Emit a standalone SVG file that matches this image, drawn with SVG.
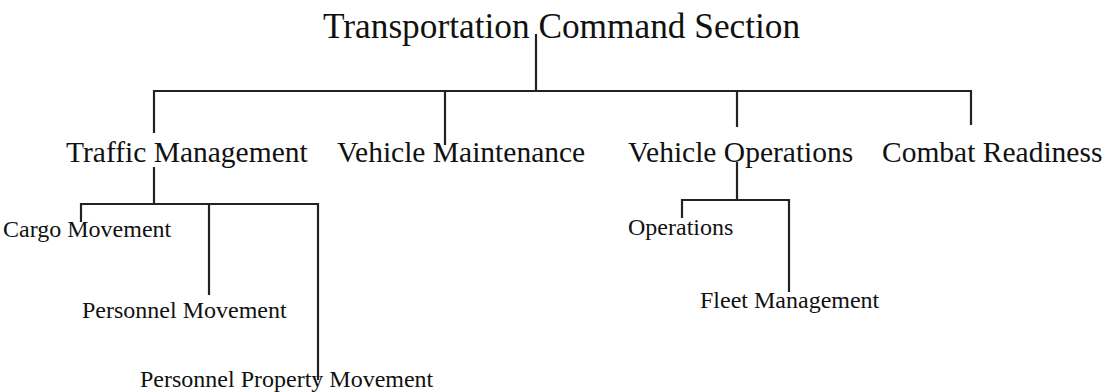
<svg xmlns="http://www.w3.org/2000/svg" width="1107" height="392" viewBox="0 0 1107 392">
<style>
text{font-family:"Liberation Serif","Times New Roman",serif;fill:#111}
.t0{font-size:35.3px}
.t1{font-size:29.5px}
.t2{font-size:24px}
.c line{stroke:#222;stroke-width:2.2;fill:none}
</style>
<rect width="1107" height="392" fill="#fff"/>
<g id="connectors" class="c">
<line x1="536" y1="34" x2="536" y2="91"/>
<line x1="153" y1="91" x2="972" y2="91"/>
<line x1="154" y1="90" x2="154" y2="133"/>
<line x1="445" y1="91" x2="445" y2="145"/>
<line x1="737" y1="91" x2="737" y2="127"/>
<line x1="971" y1="90" x2="971" y2="125"/>
<line x1="154" y1="167" x2="154" y2="204"/>
<line x1="80" y1="204" x2="319" y2="204"/>
<line x1="81" y1="203" x2="81" y2="222"/>
<line x1="209" y1="204" x2="209" y2="295"/>
<line x1="318" y1="203" x2="318" y2="380"/>
<line x1="737" y1="162" x2="737" y2="200"/>
<line x1="681" y1="200" x2="790" y2="200"/>
<line x1="682" y1="199" x2="682" y2="218"/>
<line x1="789" y1="199" x2="789" y2="292"/>
</g>
<g id="n-root"><text class="t0" x="323" y="38">Transportation Command Section</text></g>
<g id="n-traffic"><text class="t1" x="66" y="162">Traffic Management</text></g>
<g id="n-maint"><text class="t1" x="337" y="162">Vehicle Maintenance</text></g>
<g id="n-ops"><text class="t1" x="628" y="162">Vehicle Operations</text></g>
<g id="n-combat"><text class="t1" x="882" y="162">Combat Readiness</text></g>
<g id="n-cargo"><text class="t2" x="3" y="237">Cargo Movement</text></g>
<g id="n-pers"><text class="t2" x="82" y="318">Personnel Movement</text></g>
<g id="n-ppm"><text class="t2" x="140" y="387">Personnel Property Movement</text></g>
<g id="n-oper"><text class="t2" x="628" y="235">Operations</text></g>
<g id="n-fleet"><text class="t2" x="700" y="308">Fleet Management</text></g>
</svg>
